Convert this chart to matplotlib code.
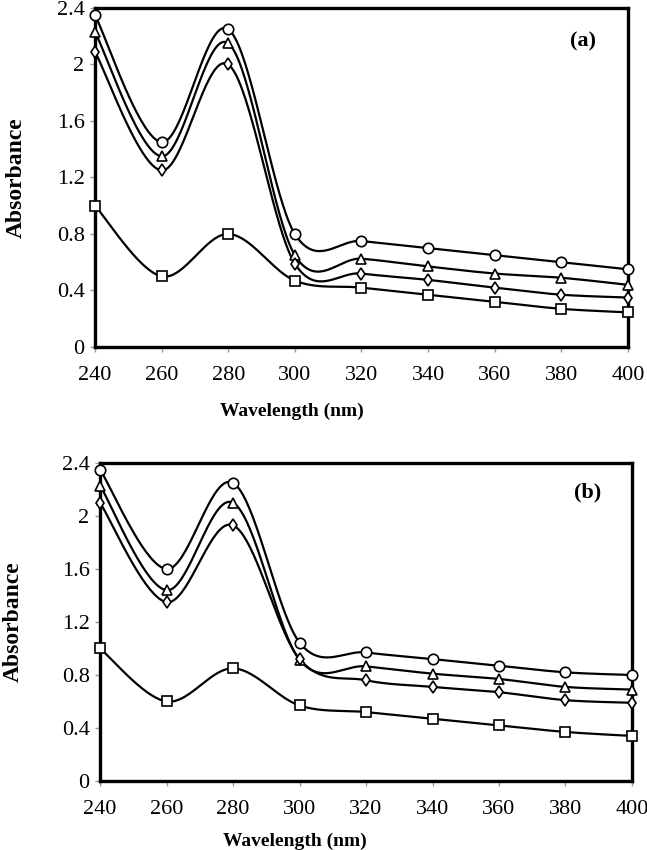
import numpy as np
import matplotlib
matplotlib.use("Agg")
import matplotlib.pyplot as plt
from matplotlib.ticker import FuncFormatter

plt.rcParams['font.family'] = ['Liberation Serif', 'DejaVu Serif']

wavelength = [240, 260, 280, 300, 320, 340, 360, 380, 400]

# Panel (a)
a_circle   = [2.35, 1.45, 2.25, 0.80, 0.75, 0.70, 0.65, 0.60, 0.55]
a_triangle = [2.23, 1.35, 2.15, 0.65, 0.625, 0.57, 0.52, 0.49, 0.44]
a_diamond  = [2.09, 1.25, 2.00, 0.59, 0.52, 0.475, 0.42, 0.37, 0.35]
a_square   = [1.00, 0.50, 0.80, 0.47, 0.42, 0.37, 0.32, 0.27, 0.245]

# Panel (b)
b_circle   = [2.35, 1.60, 2.25, 1.045, 0.97, 0.92, 0.87, 0.82, 0.80]
b_triangle = [2.23, 1.44, 2.10, 0.915, 0.865, 0.81, 0.77, 0.71, 0.69]
b_diamond  = [2.10, 1.35, 1.93, 0.92, 0.76, 0.71, 0.67, 0.61, 0.59]
b_square   = [1.00, 0.60, 0.85, 0.57, 0.52, 0.47, 0.42, 0.37, 0.34]

y_ticks = [0, 0.4, 0.8, 1.2, 1.6, 2.0, 2.4]
x_ticks = [240, 260, 280, 300, 320, 340, 360, 380, 400]


def smooth(x, y, n=40):
    """Excel-like smoothed line (Catmull-Rom Bezier) through the data points."""
    x = np.asarray(x, float)
    y = np.asarray(y, float)
    P = np.column_stack([x, y])
    out = []
    N = len(P)
    for i in range(N - 1):
        p0 = P[i - 1] if i > 0 else P[i]
        p1 = P[i]
        p2 = P[i + 1]
        p3 = P[i + 2] if i + 2 < N else P[i + 1]
        c1 = p1 + (p2 - p0) / 6.0
        c2 = p2 - (p3 - p1) / 6.0
        t = np.linspace(0, 1, n)[:, None]
        seg = ((1 - t) ** 3) * p1 + 3 * ((1 - t) ** 2) * t * c1 + 3 * (1 - t) * t ** 2 * c2 + t ** 3 * p2
        out.append(seg if i == 0 else seg[1:])
    pts = np.vstack(out)
    return pts[:, 0], pts[:, 1]


fig = plt.figure(figsize=(6.47, 8.5), dpi=100)
ax_a = fig.add_axes([0.1468, 0.5918, 0.9706 - 0.1468, 0.9906 - 0.5918])
ax_b = fig.add_axes([0.1546, 0.0812, 0.9768 - 0.1546, 0.4553 - 0.0812])

markers = ['o', '^', 'd', 's']
msizes = [7.5, 7, 6.5, 7]

panels = [
    (ax_a, [a_circle, a_triangle, a_diamond, a_square], '(a)',
     (0.916, 0.90), (0.37, -0.163), (-0.128, 0.5)),
    (ax_b, [b_circle, b_triangle, b_diamond, b_square], '(b)',
     (0.917, 0.906), (0.367, -0.163), (-0.143, 0.5)),
]

for ax, series, label, lab_pos, xl_pos, yl_pos in panels:
    for vals, m, ms in zip(series, markers, msizes):
        sx, sy = smooth(wavelength, vals)
        ax.plot(sx, sy, color='black', lw=1.6, clip_on=False, zorder=3)
        ax.plot(wavelength, vals, linestyle='none', marker=m, markersize=ms,
                markerfacecolor='white', markeredgecolor='black',
                markeredgewidth=1.2, clip_on=False, zorder=4)
    ax.set_xlim(240, 400)
    ax.set_ylim(0, 2.4)
    ax.set_xticks(x_ticks)
    ax.set_yticks(y_ticks)
    ax.yaxis.set_major_formatter(FuncFormatter(lambda v, p: '%g' % round(v, 1)))
    for s in ax.spines.values():
        s.set_linewidth(2.4)
        s.set_color('black')
    ax.tick_params(axis='x', direction='out', length=3.5, width=1, color='#999999',
                   labelsize=16, pad=10)
    ax.tick_params(axis='y', direction='out', length=3.5, width=1, color='#999999',
                   labelsize=16, pad=4)
    ax.set_xlabel('Wavelength (nm)', fontsize=14, fontweight='bold')
    ax.set_ylabel('Absorbance', fontsize=17, fontweight='bold')
    ax.xaxis.set_label_coords(*xl_pos)
    ax.yaxis.set_label_coords(*yl_pos)
    ax.text(lab_pos[0], lab_pos[1], label, transform=ax.transAxes, fontsize=16,
            fontweight='bold', ha='center', va='center')

fig.savefig('out.png', dpi=100)
